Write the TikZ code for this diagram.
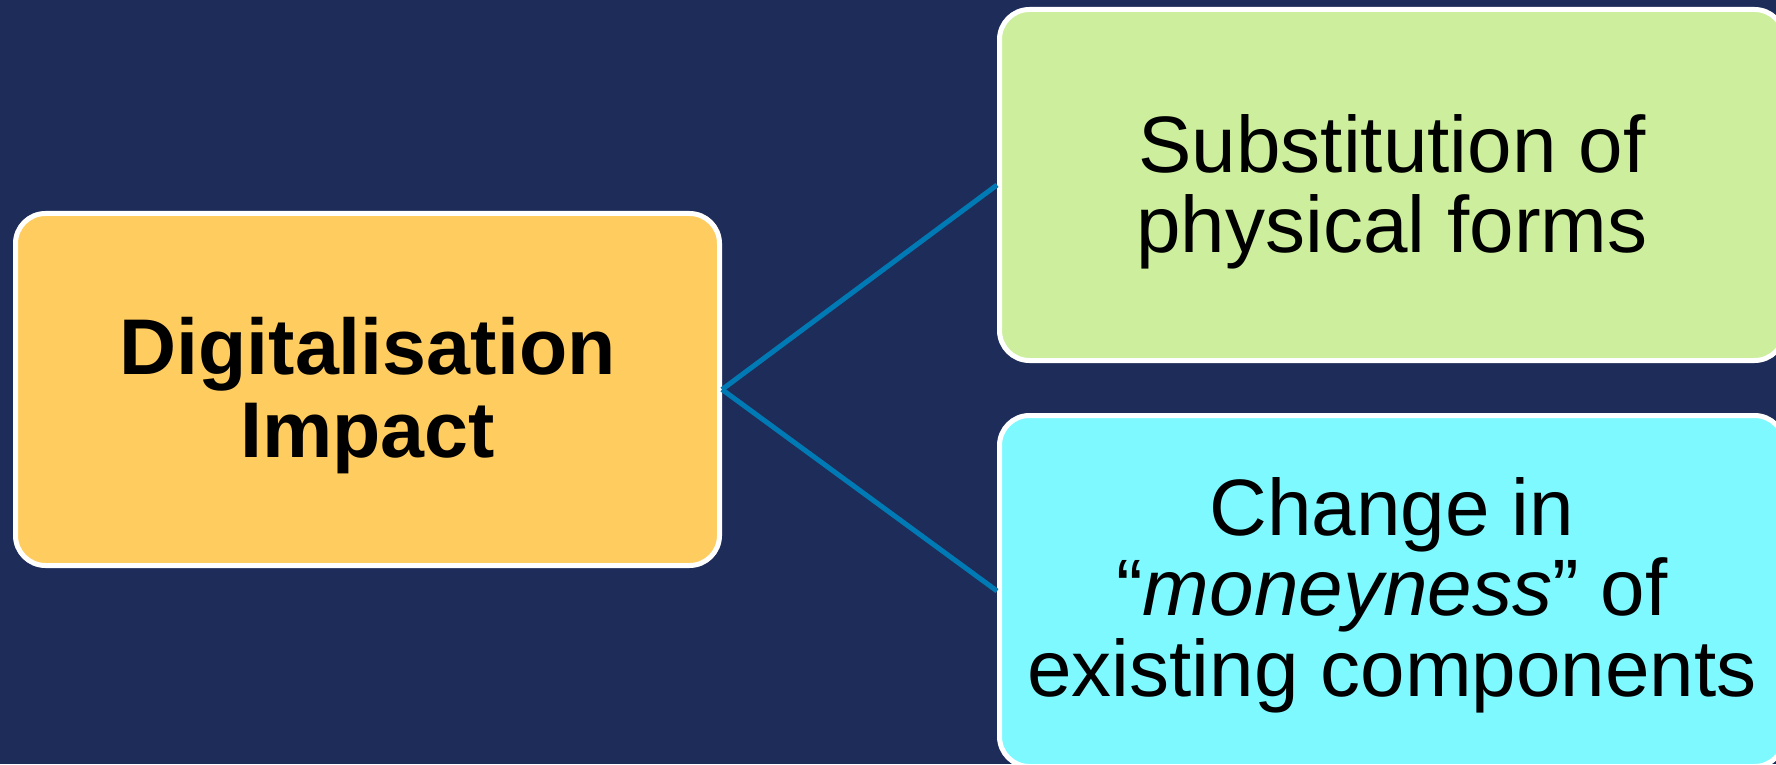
\documentclass[tikz,border=0pt]{standalone}
\usepackage{fontspec}
\setmainfont{Liberation Sans}
\definecolor{navy}{RGB}{30,44,90}
\definecolor{boxyellow}{RGB}{255,204,95}
\definecolor{boxgreen}{RGB}{204,238,157}
\definecolor{boxcyan}{RGB}{126,249,255}
\definecolor{linkblue}{RGB}{0,122,180}
\tikzset{
  card/.style={draw=white, line width=5pt, rounded corners=30pt, inner sep=0pt},
  cardtext/.style={align=center, text=black, inner sep=0pt},
  link/.style={draw=linkblue, line width=5pt}
}
\begin{document}
\begin{tikzpicture}[x=1pt,y=1pt]
\fill[navy] (0,0) rectangle (1776,764);
\useasboundingbox (0,0) rectangle (1776,764);
\node[card, fill=boxyellow, minimum width=704pt, minimum height=352pt] (L) at (367.5,374.5) {};
\node[card, fill=boxgreen, minimum width=785pt, minimum height=351pt] (T) at (1392,579) {};
\node[card, fill=boxcyan, minimum width=785pt, minimum height=351pt] (B) at (1392,173) {};
\draw[link] (L.east) -- (T.west);
\draw[link] (L.east) -- (B.west);
\node[cardtext, font=\fontsize{79}{83}\selectfont\bfseries, yshift=-6pt] (Lt) at (L.center) {Digitalisation\\Impact};
\node[cardtext, font=\fontsize{80}{80.5}\selectfont, yshift=-7pt] (Tt) at (T.center) {Substitution of\\physical forms};
\node[cardtext, font=\fontsize{80}{80.5}\selectfont, yshift=-4pt] (Bt) at (B.center) {Change in\\“\textit{moneyness}” of\\existing components};
\end{tikzpicture}
\end{document}
